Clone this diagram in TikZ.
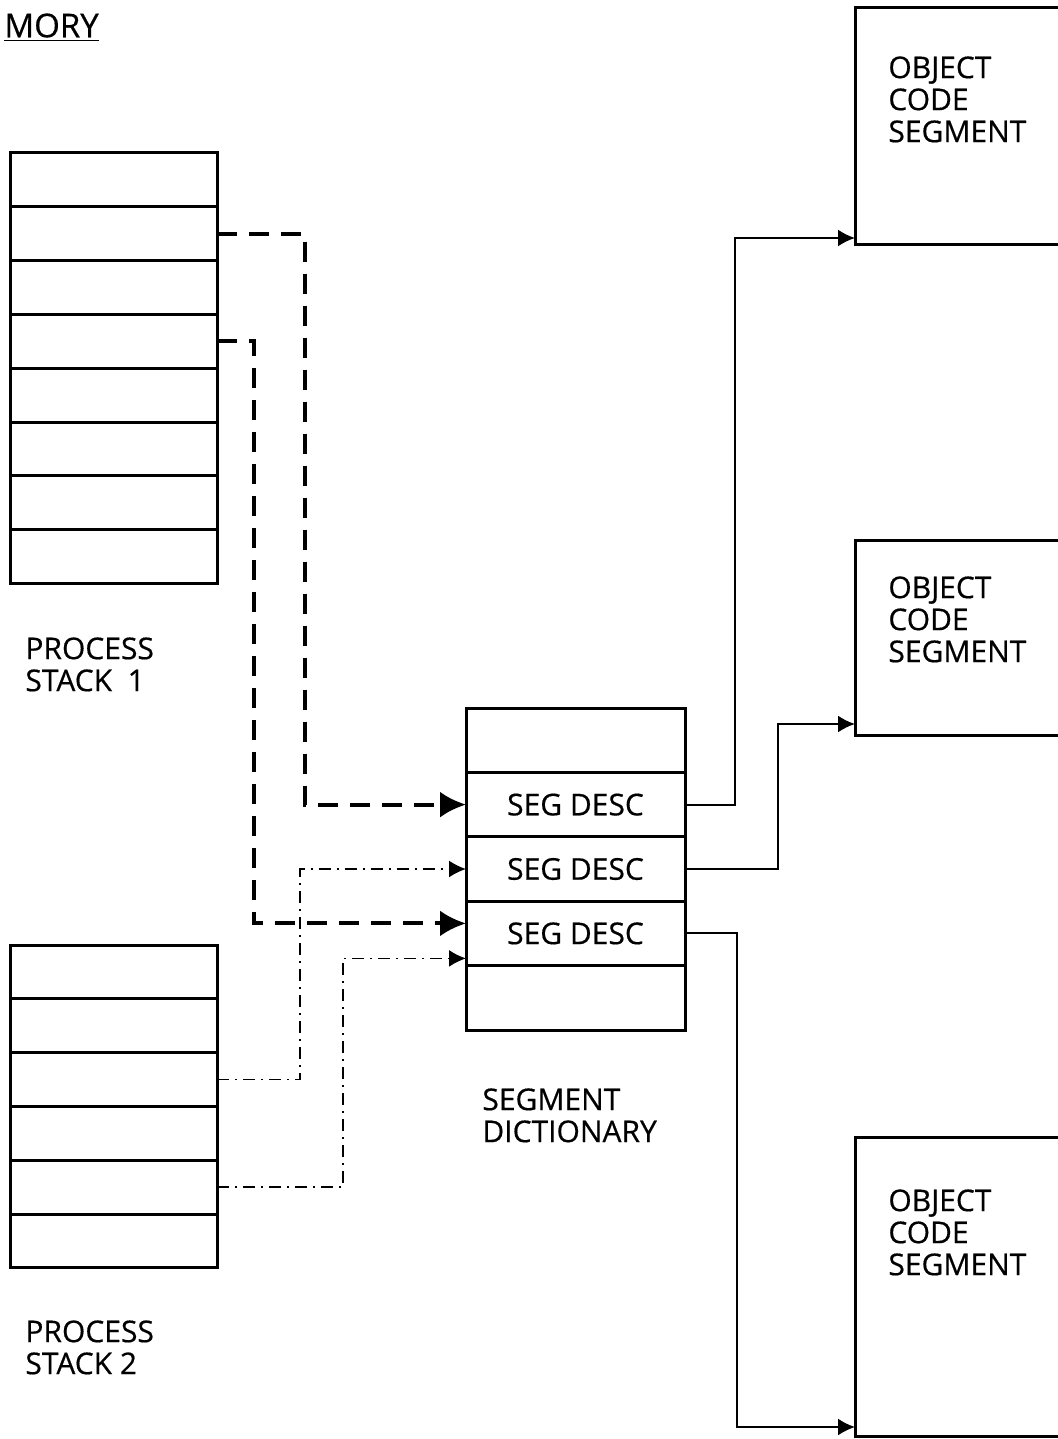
\documentclass[tikz,border=0pt]{standalone}
\usepackage{fontspec}
\setmainfont{Open Sans}[FakeBold=0.5]
\usepackage{tikz}
\usetikzlibrary{arrows.meta,positioning}

\begin{document}
\begin{tikzpicture}[x=0.5pt,y=-0.5pt,>=Latex,
  cell/.style={draw,line width=1.5pt,outer sep=0pt,minimum width=103.5pt,minimum height=26.9pt},
  dcell/.style={draw,line width=1.5pt,outer sep=0pt,minimum width=109.5pt,minimum height=32.2pt,
    font=\fontsize{15}{16}\selectfont},
  objbox/.style={draw,line width=1.5pt,outer sep=0pt,minimum width=117.5pt},
  txt/.style={align=left,inner sep=0pt,anchor=north west,font=\fontsize{15}{16}\selectfont},
  bigdash/.style={line width=2pt,dash pattern=on 10pt off 6pt,-{Latex[length=13pt,width=13pt]}},
  dashdot/.style={line width=0.9pt,dash pattern=on 6pt off 3pt on 1pt off 3pt,-{Latex[length=8.5pt,width=8.5pt]}},
  link/.style={line width=1pt,-{Latex[length=8.5pt,width=8.5pt]}}]
\useasboundingbox (0,0) rectangle (1058,1439);

\node[txt,font=\fontsize{16.5}{18}\selectfont] (mory) at (4,13) {\underline{MORY}};

% process stack 1
\node[cell] (pa1) at (113.5,179.9) {};
\foreach \i [count=\j from 2] in {1,...,7}
  \node[cell,below=0pt of pa\i] (pa\j) {};
\node[txt] (pa lbl) at (25,637) {PROCESS\\STACK~~1};

% process stack 2
\node[cell] (pb1) at (113.5,971.9) {};
\foreach \i [count=\j from 2] in {1,...,5}
  \node[cell,below=0pt of pb\i] (pb\j) {};
\node[txt] (pb lbl) at (25,1320) {PROCESS\\STACK 2};

% segment dictionary
\node[dcell] (sd1) at (575.5,740.2) {};
\node[dcell,below=0pt of sd1] (sd2) {SEG DESC};
\node[dcell,below=0pt of sd2] (sd3) {SEG DESC};
\node[dcell,below=0pt of sd3] (sd4) {SEG DESC};
\node[dcell,below=0pt of sd4] (sd5) {};
\node[txt] (sd lbl) at (482,1088) {SEGMENT\\DICTIONARY};

% object code segments
\node[objbox,minimum height=118.5pt] (ob1) at (972.5,126.5) {};
\node[objbox,minimum height=97.5pt] (ob2) at (972.5,637.5) {};
\node[objbox,minimum height=149.5pt] (ob3) at (972.5,1286.5) {};
\node[txt] (ob1 txt) at ([xshift=16.5pt,yshift=-24pt]ob1.north west) {OBJECT\\CODE\\SEGMENT};
\node[txt] (ob2 txt) at ([xshift=16.5pt,yshift=-18pt]ob2.north west) {OBJECT\\CODE\\SEGMENT};
\node[txt] (ob3 txt) at ([xshift=16.5pt,yshift=-26pt]ob3.north west) {OBJECT\\CODE\\SEGMENT};

% connectors
\draw[bigdash] (pa2.east) -- ++(88,0) |- (sd2.west);
\draw[bigdash] (pa4.east) -- ++(37,0) |- ([yshift=5pt]sd4.west);
\draw[dashdot] (pb3.east) -- ++(83,0) |- (sd3.west);
\draw[dashdot] (pb5.east) -- ++(126,0) |- ([yshift=-12.5pt]sd4.west);
\draw[link] (sd2.east) -- ++(50,0) |- ([yshift=3.5pt]ob1.south west);
\draw[link] (sd3.east) -- ++(93,0) |- ([yshift=5.5pt]ob2.south west);
\draw[link] (sd4.east) -- ++(52,0) |- ([yshift=4.5pt]ob3.south west);
\end{tikzpicture}
\end{document}
